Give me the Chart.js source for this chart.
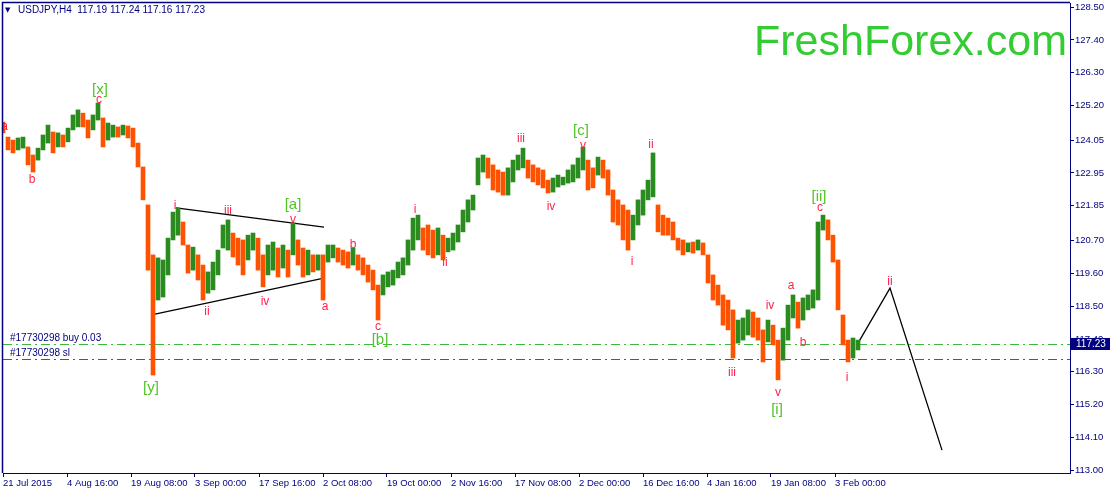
<!DOCTYPE html>
<html>
<head>
<meta charset="utf-8">
<script src="https://cdn.jsdelivr.net/npm/chart.js@4.4.0/dist/chart.umd.min.js"></script>
<style>
html, body { margin: 0; padding: 0; background: #fff; overflow: hidden; }
canvas { display: block; }
</style>
</head>
<body>
<canvas id="chart" width="1110" height="494"></canvas>
<script>
// USDJPY H4, one entry per group of 5 bars
const highs = [
  124.65, 124.15, 124.05, 124.12, 124.15, 123.82, 123.55, 123.78, 124.22, 124.55,
  124.32, 124.29, 124.22, 124.45, 124.89, 125.06, 124.95, 124.72, 124.89, 125.29,
  124.79, 124.62, 124.55, 124.49, 124.55, 124.52, 124.45, 123.95, 123.15, 121.88,
  120.21, 120.11, 120.04, 120.77, 121.64, 121.78, 121.31, 120.54, 120.47, 120.21,
  119.87, 119.64, 119.97, 120.37, 121.21, 121.38, 120.94, 120.77, 120.71, 120.87,
  120.94, 120.77, 120.21, 120.54, 120.64, 120.44, 120.54, 120.37, 121.28, 120.71,
  120.44, 120.37, 120.21, 120.21, 120.21, 120.54, 120.54, 120.44, 120.37, 120.31,
  120.44, 120.21, 120.11, 119.87, 119.70, 119.20, 119.54, 119.64, 119.70, 119.97,
  120.11, 120.71, 121.44, 121.54, 121.11, 121.21, 121.04, 121.11, 120.87, 120.77,
  120.94, 121.21, 121.71, 122.05, 122.21, 123.45, 123.55, 123.45, 123.22, 123.05,
  122.98, 123.12, 123.38, 123.55, 123.78, 123.38, 123.22, 123.12, 123.05, 122.71,
  122.78, 122.88, 122.81, 123.05, 123.22, 123.45, 123.82, 123.38, 123.12, 123.48,
  123.38, 123.05, 122.38, 122.05, 121.88, 121.71, 121.54, 122.05, 122.38, 122.71,
  123.62, 121.88, 121.54, 121.44, 121.31, 120.77, 120.71, 120.61, 120.64, 120.71,
  120.61, 120.21, 119.54, 119.20, 118.87, 118.70, 118.37, 118.03, 118.10, 118.37,
  118.30, 118.10, 117.70, 118.03, 117.86, 117.36, 117.76, 118.53, 118.87, 118.63,
  118.77, 118.87, 119.04, 121.31, 121.54, 121.38, 120.87, 120.04, 118.20, 117.36,
  117.43, 117.36
];
const lows = [
  124.29, 123.72, 123.62, 123.72, 123.78, 123.22, 122.98, 123.38, 123.72, 123.95,
  123.62, 123.82, 123.82, 123.99, 124.39, 124.49, 124.49, 124.12, 124.39, 124.72,
  123.82, 124.05, 124.15, 124.15, 124.22, 124.12, 123.82, 123.15, 122.05, 119.70,
  116.19, 118.70, 118.80, 119.54, 120.71, 120.87, 120.54, 119.60, 119.70, 119.37,
  118.70, 118.93, 119.04, 119.54, 120.44, 120.37, 120.14, 119.87, 119.54, 120.04,
  120.37, 119.70, 119.14, 119.54, 119.70, 119.47, 119.77, 119.47, 120.21, 119.87,
  119.47, 119.54, 119.64, 119.70, 118.70, 119.97, 120.11, 119.97, 119.87, 119.77,
  119.87, 119.70, 119.54, 119.30, 119.04, 118.03, 118.87, 119.14, 119.20, 119.44,
  119.54, 119.87, 120.37, 120.71, 120.37, 120.21, 120.11, 120.21, 120.04, 120.31,
  120.37, 120.64, 120.98, 121.31, 121.71, 122.55, 122.98, 122.78, 122.38, 122.31,
  122.21, 122.21, 122.65, 123.05, 123.12, 122.78, 122.65, 122.55, 122.45, 122.28,
  122.31, 122.48, 122.55, 122.61, 122.65, 122.78, 123.05, 122.38, 122.45, 122.88,
  122.78, 122.21, 121.31, 121.21, 120.71, 120.37, 120.71, 121.21, 121.54, 122.05,
  122.15, 120.98, 120.87, 120.87, 120.71, 120.37, 120.21, 120.31, 120.27, 120.37,
  120.21, 119.27, 118.70, 118.53, 117.86, 117.70, 116.76, 117.26, 117.36, 117.53,
  117.46, 117.36, 116.63, 117.30, 117.20, 116.03, 116.69, 117.36, 118.10, 117.76,
  118.03, 118.37, 118.43, 118.70, 121.04, 120.71, 119.97, 118.37, 117.20, 116.63,
  116.76, 117.03
];

const priceTicks = [128.50, 127.40, 126.30, 125.20, 124.05, 122.95, 121.85, 120.70,
  119.60, 118.50, 117.40, 116.30, 115.20, 114.10, 113.00];
const timeLabels = ['21 Jul 2015', '4 Aug 16:00', '19 Aug 08:00', '3 Sep 00:00',
  '17 Sep 16:00', '2 Oct 08:00', '19 Oct 00:00', '2 Nov 16:00', '17 Nov 08:00',
  '2 Dec 00:00', '16 Dec 16:00', '4 Jan 16:00', '19 Jan 08:00', '3 Feb 00:00'];
const timeTickPos = [0, 12.8, 25.6, 38.4, 51.2, 64, 76.8, 89.6, 102.4, 115.2, 128,
  140.8, 153.6, 166.4];

// wave marks
const redLabels = ['a', 'b', 'c', 'i', 'ii', 'iii', 'iv', 'v', 'a', 'b', 'c', 'i', 'ii',
  'iii', 'iv', 'v', 'i', 'ii', 'iii', 'iv', 'v', 'a', 'b', 'c', 'i', 'ii'];
const redX = [0.3, 5.8, 19.2, 34.4, 40.8, 45.0, 52.4, 58.0, 64.4, 70.0, 75.0, 82.4, 88.4,
  103.6, 109.6, 116.0, 125.8, 129.6, 145.8, 153.4, 155.0, 157.6, 160.0, 163.4, 168.8, 177.4];
const redY = [124.49, 122.71, 125.39, 121.84, 118.30, 121.68, 118.63, 121.38, 118.47,
  120.54, 117.80, 121.71, 119.94, 124.08, 121.81, 123.85, 119.97, 123.88, 116.26, 118.50,
  115.59, 119.17, 117.26, 121.78, 116.09, 119.30];
const greenLabels = ['[x]', '[y]', '[a]', '[b]', '[c]', '[i]', '[ii]'];
const greenX = [19.4, 29.6, 58.0, 75.4, 115.6, 154.8, 163.2];
const greenY = [125.72, 115.76, 121.88, 117.36, 124.35, 115.02, 122.15];

const triUpper = [[34.6, 121.78], [64.2, 121.14]];
const triLower = [[30.4, 118.23], [64.4, 119.44]];
const forecast = [[170.8, 117.20], [177.4, 119.10], [187.8, 113.68]];

const buyPrice = 117.24;
const slPrice = 116.72;
const lastPrice = 117.23;

const NAVY = '#000080';
const UP = '#2a8c1e';
const DOWN = '#ff5200';
const FONT = '"Liberation Sans", Arial, sans-serif';

const barColors = highs.map((h, i) => {
  if (i === 0) return DOWN;
  const mid = (h + lows[i]) / 2;
  const prev = (highs[i - 1] + lows[i - 1]) / 2;
  return mid >= prev ? UP : DOWN;
});

const toXY = pts => pts.map(p => ({ x: p[0], y: p[1] }));
const lineSet = pts => ({
  type: 'line',
  data: toXY(pts),
  borderColor: '#000',
  borderWidth: 1.3,
  pointRadius: 0,
  fill: false,
  tension: 0
});

const overlay = {
  id: 'overlay',
  beforeDatasetsDraw(chart) {
    const { ctx, chartArea: a, scales: { y } } = chart;
    ctx.save();
    ctx.lineWidth = 1;
    ctx.setLineDash([9, 4, 2, 4]);
    ctx.strokeStyle = '#3cb93c';
    let py = Math.round(y.getPixelForValue(buyPrice)) + 0.5;
    ctx.beginPath(); ctx.moveTo(a.left, py); ctx.lineTo(a.right, py); ctx.stroke();
    ctx.strokeStyle = '#d0203c';
    py = Math.round(y.getPixelForValue(slPrice)) + 0.5;
    ctx.beginPath(); ctx.moveTo(a.left, py); ctx.lineTo(a.right, py); ctx.stroke();
    ctx.restore();
  },
  afterDatasetsDraw(chart) {
    const { ctx, scales: { x, y } } = chart;
    ctx.save();
    ctx.textAlign = 'center';
    ctx.textBaseline = 'middle';
    ctx.font = '12px ' + FONT;
    ctx.fillStyle = '#ff1f4b';
    redLabels.forEach((t, i) => {
      ctx.fillText(t, x.getPixelForValue(redX[i]), y.getPixelForValue(redY[i]));
    });
    ctx.font = '15px ' + FONT;
    ctx.fillStyle = '#52c42a';
    greenLabels.forEach((t, i) => {
      ctx.fillText(t, x.getPixelForValue(greenX[i]), y.getPixelForValue(greenY[i]));
    });

    // order labels
    ctx.textAlign = 'left';
    ctx.textBaseline = 'alphabetic';
    ctx.font = '10px ' + FONT;
    ctx.fillStyle = NAVY;
    ctx.fillText('#17730298 buy 0.03', 10, y.getPixelForValue(buyPrice) - 3);
    ctx.fillText('#17730298 sl', 10, y.getPixelForValue(slPrice) - 3);
    ctx.restore();
  },
  afterDraw(chart) {
    const { ctx, chartArea: a, scales: { y } } = chart;
    ctx.save();
    // frame left and top
    ctx.strokeStyle = NAVY;
    ctx.lineWidth = 1.5;
    ctx.beginPath();
    ctx.moveTo(a.left - 0.5, a.bottom);
    ctx.lineTo(a.left - 0.5, a.top - 0.5);
    ctx.lineTo(a.right, a.top - 0.5);
    ctx.stroke();

    // current price box
    const py = y.getPixelForValue(lastPrice);
    ctx.fillStyle = NAVY;
    ctx.fillRect(a.right + 1, py - 6, 39, 12);
    ctx.fillStyle = '#fff';
    ctx.font = '10px ' + FONT;
    ctx.textBaseline = 'middle';
    ctx.fillText(lastPrice.toFixed(2), a.right + 6, py + 0.5);

    // header
    ctx.fillStyle = NAVY;
    ctx.textBaseline = 'alphabetic';
    ctx.font = '7px "DejaVu Sans", sans-serif';
    ctx.fillText('\u25BC', 5, 12);
    ctx.font = '10px ' + FONT;
    ctx.fillText('USDJPY,H4  117.19 117.24 117.16 117.23', 18, 13);

    // brand
    ctx.fillStyle = '#33cc33';
    ctx.font = '43px ' + FONT;
    ctx.fillText('FreshForex.com', 754, 55);
    ctx.restore();
  }
};

new Chart(document.getElementById('chart'), {
  type: 'bar',
  data: {
    datasets: [
      {
        data: highs.map((h, i) => ({ x: i, y: [lows[i], h] })),
        backgroundColor: barColors,
        borderWidth: 0,
        barThickness: 4,
        grouped: false
      },
      lineSet(triUpper),
      lineSet(triLower),
      lineSet(forecast)
    ]
  },
  options: {
    responsive: false,
    animation: false,
    events: [],
    layout: { padding: { left: 3, top: 3, right: 0, bottom: 0 } },
    plugins: { legend: { display: false }, tooltip: { enabled: false } },
    scales: {
      x: {
        type: 'linear',
        offset: false,
        min: 0,
        max: 213.4,
        afterBuildTicks: axis => { axis.ticks = timeTickPos.map(v => ({ value: v })); },
        afterFit: axis => {
          axis.height = 21;
          axis.paddingLeft = 0; axis.paddingRight = 0;
          axis.paddingTop = 0; axis.paddingBottom = 0;
        },
        grid: { drawOnChartArea: false, drawTicks: true, tickLength: 4, color: NAVY, offset: false },
        border: { color: NAVY, width: 1 },
        ticks: {
          autoSkip: false,
          maxRotation: 0,
          align: 'start',
          padding: 1,
          color: NAVY,
          font: { family: FONT, size: 9.5 },
          callback: (v, i) => timeLabels[i]
        }
      },
      y: {
        position: 'right',
        min: 112.915,
        max: 128.634,
        afterBuildTicks: axis => { axis.ticks = priceTicks.map(v => ({ value: v })); },
        afterFit: axis => {
          axis.width = 40;
          axis.paddingTop = 0; axis.paddingBottom = 0;
          axis.paddingLeft = 0; axis.paddingRight = 0;
        },
        grid: { drawOnChartArea: false, drawTicks: true, tickLength: 4, color: NAVY },
        border: { color: NAVY, width: 1 },
        ticks: {
          padding: 1,
          color: NAVY,
          font: { family: FONT, size: 9.5 },
          callback: v => v.toFixed(2)
        }
      }
    }
  },
  plugins: [overlay]
});
</script>
</body>
</html>
